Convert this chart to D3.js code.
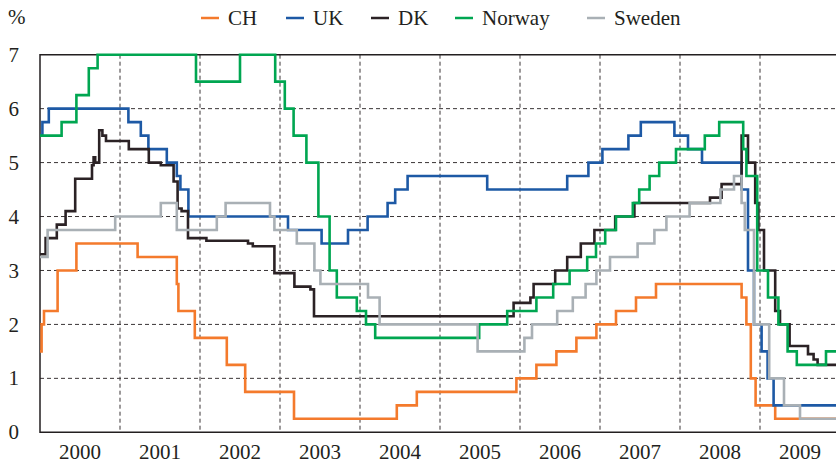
<!DOCTYPE html>
<html>
<head>
<meta charset="utf-8">
<script src="https://cdn.jsdelivr.net/npm/d3@7"></script>
</head>
<body style="margin:0">
<script>
// policy rates, step series: t = decimal year of change, v = new rate in %
const years = ['2000', '2001', '2002', '2003', '2004', '2005', '2006', '2007', '2008', '2009'];
const yTicks = [0, 1, 2, 3, 4, 5, 6, 7];
const names = ['CH', 'UK', 'DK', 'Norway', 'Sweden'];
const colors = ['#f47a2c', '#1d59a5', '#2b2225', '#00a651', '#a9b0b5'];

const chT = [2000.00, 2000.02, 2000.05, 2000.22, 2000.455, 2001.22, 2001.71, 2001.73, 2001.935, 2002.335, 2002.565, 2003.175, 2004.46, 2004.71, 2005.955, 2006.205, 2006.455, 2006.705, 2006.955, 2007.2, 2007.45, 2007.7, 2008.77, 2008.83, 2008.885, 2008.945, 2009.19];
const chV = [1.5, 2.0, 2.25, 3.0, 3.5, 3.25, 2.75, 2.25, 1.75, 1.25, 0.75, 0.25, 0.5, 0.75, 1.0, 1.25, 1.5, 1.75, 2.0, 2.25, 2.5, 2.75, 2.5, 2.0, 1.0, 0.5, 0.25];

const ukT = [2000.00, 2000.03, 2000.11, 2001.105, 2001.26, 2001.355, 2001.585, 2001.71, 2001.755, 2001.855, 2003.10, 2003.52, 2003.85, 2004.095, 2004.345, 2004.44, 2004.595, 2005.59, 2006.59, 2006.855, 2007.03, 2007.355, 2007.51, 2007.93, 2008.10, 2008.275, 2008.77, 2008.85, 2008.925, 2009.02, 2009.095, 2009.17];
const ukV = [5.50, 5.75, 6.00, 5.75, 5.50, 5.25, 5.00, 4.75, 4.50, 4.00, 3.75, 3.50, 3.75, 4.00, 4.25, 4.50, 4.75, 4.50, 4.75, 5.00, 5.25, 5.50, 5.75, 5.50, 5.25, 5.00, 4.50, 3.00, 2.00, 1.50, 1.00, 0.50];

const dkT = [2000.00, 2000.07, 2000.21, 2000.32, 2000.44, 2000.65, 2000.67, 2000.69, 2000.74, 2000.78, 2000.825, 2001.11, 2001.36, 2001.51, 2001.67, 2001.72, 2001.77, 2001.85, 2002.08, 2002.60, 2002.66, 2002.93, 2003.18, 2003.38, 2003.425, 2005.92, 2006.13, 2006.17, 2006.44, 2006.59, 2006.76, 2006.93, 2007.19, 2007.43, 2008.375, 2008.52, 2008.77, 2008.85, 2008.94, 2008.98, 2009.05, 2009.19, 2009.25, 2009.37, 2009.6, 2009.67, 2009.72];
const dkV = [3.30, 3.60, 3.85, 4.10, 4.70, 4.95, 5.10, 5.00, 5.60, 5.50, 5.40, 5.25, 5.00, 4.95, 4.65, 4.15, 4.10, 3.60, 3.55, 3.50, 3.45, 2.95, 2.70, 2.65, 2.15, 2.40, 2.50, 2.75, 3.00, 3.25, 3.50, 3.75, 4.00, 4.25, 4.35, 4.60, 5.50, 5.00, 4.25, 3.75, 3.00, 2.25, 2.00, 1.60, 1.45, 1.35, 1.25];

const noT = [2000.00, 2000.27, 2000.455, 2000.61, 2000.72, 2001.95, 2002.50, 2002.94, 2003.06, 2003.17, 2003.33, 2003.48, 2003.62, 2003.71, 2003.96, 2004.075, 2004.19, 2005.49, 2005.84, 2006.205, 2006.415, 2006.62, 2006.84, 2006.95, 2007.065, 2007.2, 2007.41, 2007.49, 2007.62, 2007.74, 2007.95, 2008.31, 2008.49, 2008.79, 2008.83, 2008.965, 2009.10, 2009.23, 2009.345, 2009.46, 2009.825];
const noV = [5.50, 5.75, 6.25, 6.75, 7.00, 6.50, 7.00, 6.50, 6.00, 5.50, 5.00, 4.00, 3.00, 2.50, 2.25, 2.00, 1.75, 2.00, 2.25, 2.50, 2.75, 3.00, 3.25, 3.50, 3.75, 4.00, 4.25, 4.50, 4.75, 5.00, 5.25, 5.50, 5.75, 5.25, 4.75, 3.00, 2.50, 2.00, 1.50, 1.25, 1.50];

const seT = [2000.00, 2000.095, 2000.94, 2001.51, 2001.71, 2002.21, 2002.32, 2002.875, 2002.93, 2003.21, 2003.43, 2003.505, 2004.10, 2004.245, 2005.47, 2006.055, 2006.15, 2006.465, 2006.66, 2006.82, 2006.955, 2007.125, 2007.47, 2007.68, 2007.83, 2008.12, 2008.505, 2008.675, 2008.77, 2008.81, 2008.925, 2009.115, 2009.30, 2009.50];
const seV = [3.25, 3.75, 4.00, 4.25, 3.75, 4.00, 4.25, 4.00, 3.75, 3.50, 3.00, 2.75, 2.50, 2.00, 1.50, 1.75, 2.00, 2.25, 2.50, 2.75, 3.00, 3.25, 3.50, 3.75, 4.00, 4.25, 4.50, 4.75, 4.25, 3.75, 2.00, 1.00, 0.50, 0.25];

const width = 836, height = 465;
const legendX = [201, 286, 371, 455, 587];
const ink = '#231f20';

const series = [[chT, chV], [ukT, ukV], [dkT, dkV], [noT, noV], [seT, seV]].map(([t, v], i) => {
  const pts = t.map((d, j) => ({ t: d, v: v[j] }));
  pts.push({ t: 2010, v: v[v.length - 1] }); // run last level to the edge
  return { name: names[i], color: colors[i], pts: pts };
});

const svg = d3.select('body').append('svg').attr('width', width).attr('height', height);

function label(sel) {
  sel.attr('font-family', 'serif').attr('font-size', 21).attr('fill', ink);
}

const x = d3.scaleLinear().domain([2000, 2010]).range([40, 840]);
const y = d3.scaleLinear().domain([0, 7]).range([432.3, 54.7]);

// grid
const grid = svg.append('g').attr('stroke', '#3a3536').attr('stroke-width', 1).attr('stroke-dasharray', '4,3');
grid.selectAll('line.h').data(yTicks.slice(1, -1)).enter().append('line')
  .attr('x1', x(2000)).attr('x2', width).attr('y1', d => y(d)).attr('y2', d => y(d));
grid.selectAll('line.v').data(years.slice(1)).enter().append('line')
  .attr('x1', d => x(+d)).attr('x2', d => x(+d)).attr('y1', y(7)).attr('y2', y(0));

// frame: left, bottom, top
svg.append('path')
  .attr('d', 'M' + width + ',' + y(7) + 'H' + x(2000) + 'V' + y(0) + 'H' + width)
  .attr('fill', 'none').attr('stroke', ink).attr('stroke-width', 1.5);

// tick labels, placed with the scales
svg.append('g').selectAll('text').data(yTicks).enter().append('text')
  .attr('x', 19).attr('y', d => y(d)).attr('dy', '0.34em').attr('text-anchor', 'end')
  .text(d => d).call(label);

svg.append('g').selectAll('text').data(years).enter().append('text')
  .attr('x', d => x(+d + 0.5)).attr('y', y(0) + 27).attr('text-anchor', 'middle')
  .text(d => d).call(label);

// lines
const line = d3.line().x(d => x(d.t)).y(d => y(d.v)).curve(d3.curveStepAfter);
svg.append('g').selectAll('path').data(series).enter().append('path')
  .attr('d', d => line(d.pts))
  .attr('fill', 'none')
  .attr('stroke', d => d.color)
  .attr('stroke-width', 2.6);

// unit label and legend
svg.append('text').attr('x', 8).attr('y', 24).text('%').call(label);

const legend = svg.append('g').selectAll('g').data(series).enter().append('g')
  .attr('transform', (d, i) => 'translate(' + legendX[i] + ',18)');
legend.append('line').attr('x1', 0).attr('x2', 18).attr('y1', 0).attr('y2', 0)
  .attr('stroke', d => d.color).attr('stroke-width', 2.5);
legend.append('text').attr('x', 27).attr('y', 6.5).text(d => d.name).call(label);
</script>
</body>
</html>
